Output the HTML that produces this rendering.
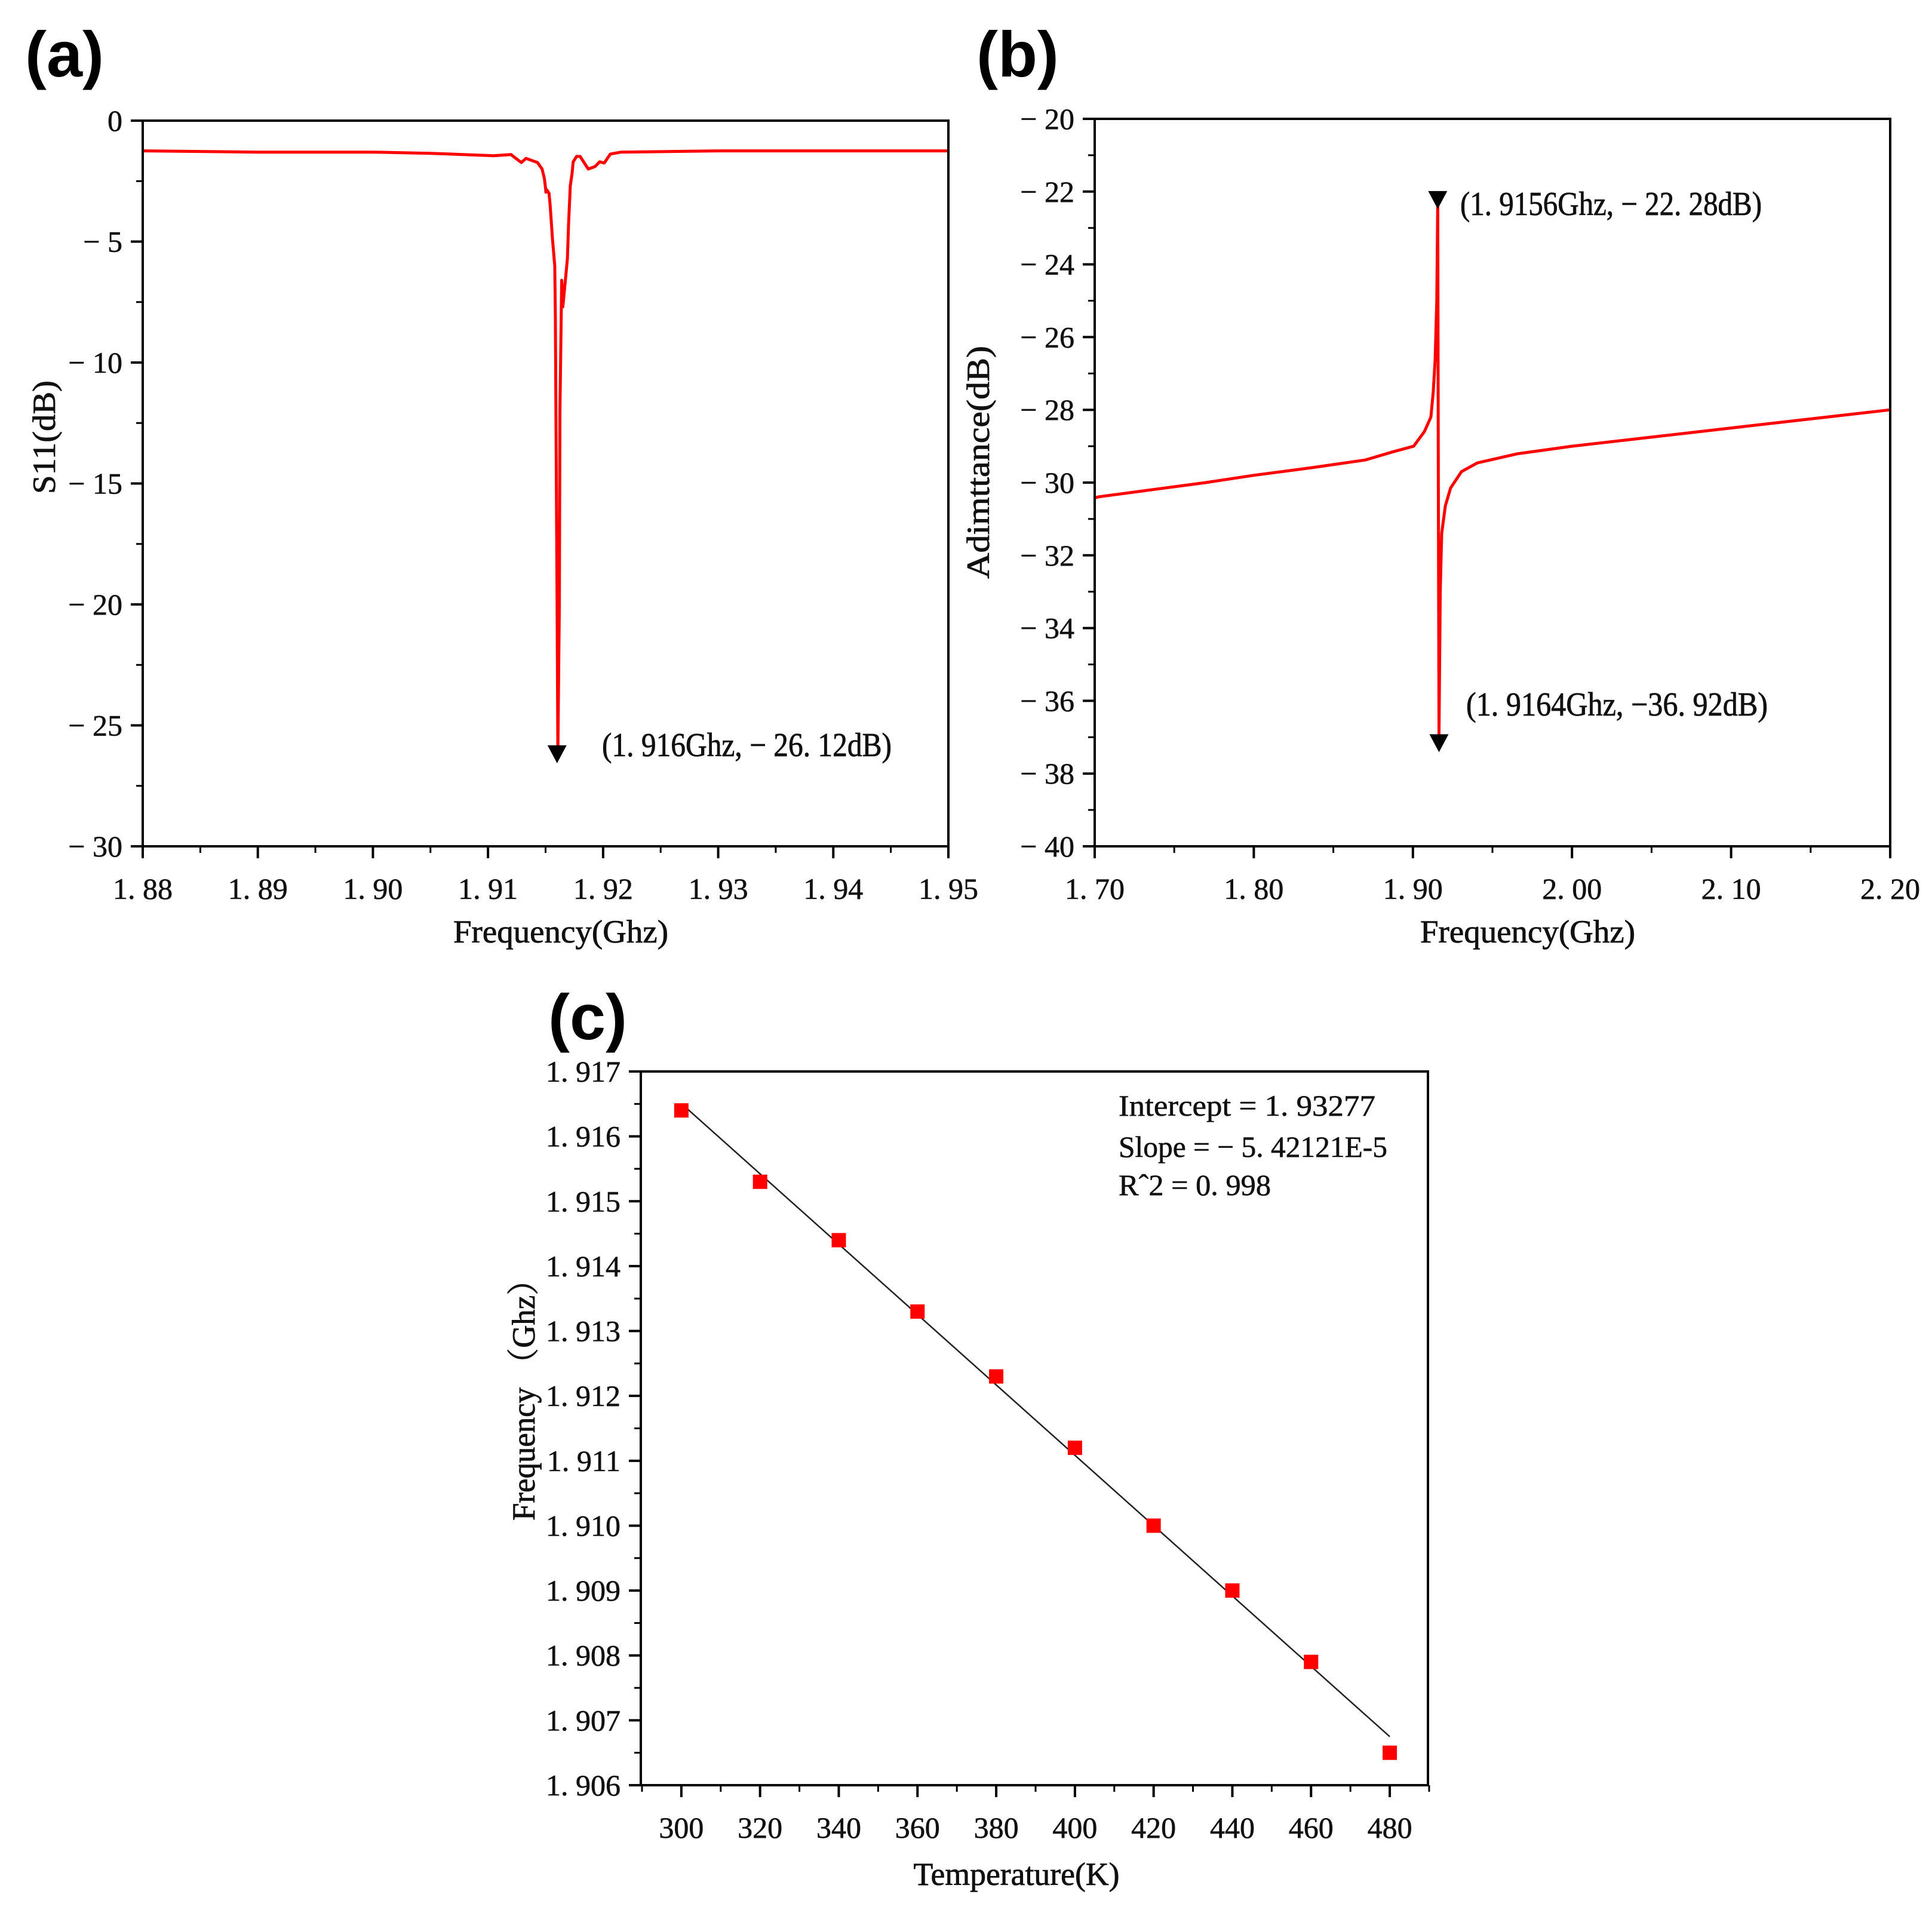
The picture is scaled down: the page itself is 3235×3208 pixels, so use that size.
<!DOCTYPE html>
<html><head><meta charset="utf-8">
<style>
html,body{margin:0;padding:0;background:#fff;}
svg{display:block;font-family:"Liberation Serif","Noto Serif CJK SC",serif;}
.lab{font-family:"Liberation Sans","DejaVu Sans",sans-serif;font-weight:bold;font-size:108px;}
</style></head>
<body>
<svg id="fig" width="3235" height="3208" viewBox="0 0 3235 3208" xmlns="http://www.w3.org/2000/svg">
<text class="lab" x="42" y="128">(a)</text>
<text class="lab" x="1635" y="128">(b)</text>
<text class="lab" x="918" y="1740">(c)</text>
</svg>
<script>
// ---- Panel (a) data: S11 vs frequency ----
const aFreq = [1.880,1.890,1.900,1.905,1.9105,1.912,1.9122,1.9129,1.9133,1.9143,1.9147,1.9149,1.9150,1.91503,1.9151,1.9153,1.9154,1.9156,1.9158,1.91585,1.9160,1.91607,1.9162,1.91625,1.9164,1.9165,1.9167,1.9169,1.9170,1.91715,1.9173,1.9174,1.9177,1.9180,1.91871,1.9193,1.9197,1.9201,1.92063,1.92156,1.930,1.940,1.950];
const aS11 = [-1.25,-1.3,-1.3,-1.35,-1.45,-1.4,-1.48,-1.73,-1.56,-1.73,-2.0,-2.4,-2.8,-2.96,-2.86,-3.0,-3.5,-4.9,-6.0,-8.0,-20,-26.12,-20,-12,-6.6,-7.7,-6.7,-5.7,-4.3,-2.7,-2.2,-1.7,-1.48,-1.48,-2.0,-1.9,-1.7,-1.75,-1.38,-1.3,-1.25,-1.25,-1.25];
const aMarker = {f:1.916, v:-26.12};
const aXTicks = [1.88,1.89,1.90,1.91,1.92,1.93,1.94,1.95];
const aXLabels = ["1. 88","1. 89","1. 90","1. 91","1. 92","1. 93","1. 94","1. 95"];
const aYTicks = [0,-5,-10,-15,-20,-25,-30];
const aYLabels = ["0","− 5","− 10","− 15","− 20","− 25","− 30"];

// ---- Panel (b) data: admittance vs frequency ----
const bFreq = [1.70,1.7026,1.7698,1.80,1.8366,1.870,1.887,1.9005,1.9072,1.9113,1.9128,1.914,1.9150,1.9156,1.9160,1.9164,1.9172,1.9181,1.9204,1.9237,1.9305,1.9405,1.9654,2.00,2.05,2.10,2.15,2.20];
const bAdm = [-30.42,-30.39,-30.0,-29.8,-29.59,-29.38,-29.16,-29.0,-28.6,-28.2,-27.5,-26.6,-25.0,-22.28,-30.0,-36.92,-33.0,-31.4,-30.64,-30.15,-29.7,-29.46,-29.21,-29.0,-28.75,-28.5,-28.25,-28.0];
const bMarkers = [{f:1.9156,v:-22.28},{f:1.9164,v:-36.92}];
const bXTicks = [1.70,1.80,1.90,2.00,2.10,2.20];
const bXLabels = ["1. 70","1. 80","1. 90","2. 00","2. 10","2. 20"];
const bYTicks = [-20,-22,-24,-26,-28,-30,-32,-34,-36,-38,-40];
const bYLabels = ["− 20","− 22","− 24","− 26","− 28","− 30","− 32","− 34","− 36","− 38","− 40"];

// ---- Panel (c) data: resonance frequency vs temperature ----
const cTemp = [300,320,340,360,380,400,420,440,460,480];
const cFreq = [1.9164,1.9153,1.9144,1.9133,1.9123,1.9112,1.9100,1.9090,1.9079,1.9065];
const cIntercept = 1.93277;
const cSlope = -5.42121e-5;
const cXTicks = [300,320,340,360,380,400,420,440,460,480];
const cXLabels = ["300","320","340","360","380","400","420","440","460","480"];
const cYTicks = [1.917,1.916,1.915,1.914,1.913,1.912,1.911,1.910,1.909,1.908,1.907,1.906];
const cYLabels = ["1. 917","1. 916","1. 915","1. 914","1. 913","1. 912","1. 911","1. 910","1. 909","1. 908","1. 907","1. 906"];

const NS = "http://www.w3.org/2000/svg";
const svg = document.getElementById('fig');
function mk(tag, attrs, parent){
  const e = document.createElementNS(NS, tag);
  for (const k in attrs) e.setAttribute(k, attrs[k]);
  (parent||svg).appendChild(e);
  return e;
}
function scale(d0,d1,p0,p1){ return v => p0 + (v-d0)/(d1-d0)*(p1-p0); }

function frame(g, L,T,R,B){
  const r = mk('rect',{x:L,y:T,width:R-L,height:B-T,fill:'none',stroke:'#000','stroke-width':4},g);
  
  
}
function xAxis(g, sx, B, ticks, labels, minorStep, lo, hi, fs){
  ticks.forEach((t,i)=>{
    const x = sx(t);
    const tk = mk('line',{x1:x,y1:B,x2:x,y2:B+20,stroke:'#000','stroke-width':4},g);
    
    
    const tx = mk('text',{x:x,y:B+88,'font-size':fs,'text-anchor':'middle',fill:'#111',stroke:'#111','stroke-width':0.6},g);
    tx.textContent = labels[i];
    
    
  });
  for (let v=lo; v<=hi+1e-9; v+=minorStep){
    const x = sx(v);
    const m = mk('line',{x1:x,y1:B,x2:x,y2:B+11,stroke:'#000','stroke-width':3},g);
    
    
  }
}
function yAxis(g, sy, L, ticks, labels, minorStep, lo, hi, fs){
  ticks.forEach((t,i)=>{
    const y = sy(t);
    const tk = mk('line',{x1:L-20,y1:y,x2:L,y2:y,stroke:'#000','stroke-width':4},g);
    
    
    const tx = mk('text',{x:L-34,y:y+17,'font-size':fs,'text-anchor':'end',fill:'#111',stroke:'#111','stroke-width':0.6},g);
    tx.textContent = labels[i];
    
    
  });
  for (let v=lo; v<=hi+1e-9; v+=minorStep){
    const y = sy(v);
    const m = mk('line',{x1:L-11,y1:y,x2:L,y2:y,stroke:'#000','stroke-width':3},g);
    
    
  }
}
function axTitle(g, x, y, txt, rot, name, fs, len){
  const t = mk('text',{x:x,y:y,'font-size':fs,'text-anchor':'middle',fill:'#111',stroke:'#111','stroke-width':0.8},g);
  if (len){ t.setAttribute('textLength',len); t.setAttribute('lengthAdjust','spacingAndGlyphs'); }
  if (rot) t.setAttribute('transform','rotate(-90 '+x+' '+y+')');
  t.textContent = txt;
  
  
}
function tri(g,x,yTip){
  const h=30,w=16;
  const p = [[x-w,yTip-h],[x+w,yTip-h],[x,yTip]];
  const e = mk('polygon',{points:p.map(q=>q.join(',')).join(' '),fill:'#000'},g);
  
  
}
function annot(g,x,y,txt,len){
  const t = mk('text',{x:x,y:y,'font-size':56,fill:'#111',stroke:'#111','stroke-width':0.8,textLength:len,lengthAdjust:'spacingAndGlyphs'},g);
  t.textContent = txt;
  
  
}

// ===== Panel (a) =====
(function(){
  const g = mk('g',{});
  
  
  const L=239,R=1588,T=202,B=1417;
  const sx = scale(1.88,1.95,L,R), sy = scale(0,-30,T,B);
  const pts = aFreq.map((f,i)=>sx(f).toFixed(1)+','+sy(aS11[i]).toFixed(1)).join(' ');
  const pl = mk('polyline',{points:pts,fill:'none',stroke:'#ff0000','stroke-width':5,'stroke-linejoin':'round'},g);
  
  
  frame(g,L,T,R,B);
  xAxis(g,sx,B,aXTicks,aXLabels,0.005,1.88,1.95,50);
  yAxis(g,sy,L,aYTicks,aYLabels,2.5,-30,0,50);
  tri(g,sx(aMarker.f),sy(aMarker.v)+18);
  annot(g,1008,1266,"(1. 916Ghz, − 26. 12dB)",485);
  axTitle(g,939,1578,"Frequency(Ghz)",false,'x-axis-title',54,360);
  axTitle(g,92,732,"S11(dB)",true,'y-axis-title',54,190);
})();

// ===== Panel (b) =====
(function(){
  const g = mk('g',{});
  
  
  const L=1833,R=3165,T=199,B=1417;
  const sx = scale(1.70,2.20,L,R), sy = scale(-20,-40,T,B);
  const pts = bFreq.map((f,i)=>sx(f).toFixed(1)+','+sy(bAdm[i]).toFixed(1)).join(' ');
  const pl = mk('polyline',{points:pts,fill:'none',stroke:'#ff0000','stroke-width':5,'stroke-linejoin':'round'},g);
  
  
  frame(g,L,T,R,B);
  xAxis(g,sx,B,bXTicks,bXLabels,0.05,1.70,2.20,50);
  yAxis(g,sy,L,bYTicks,bYLabels,1,-40,-20,50);
  tri(g,sx(bMarkers[0].f),sy(bMarkers[0].v)+12);
  tri(g,sx(bMarkers[1].f),sy(bMarkers[1].v)+30);
  annot(g,2445,360,"(1. 9156Ghz, − 22. 28dB)",505);
  annot(g,2455,1198,"(1. 9164Ghz, −36. 92dB)",505);
  axTitle(g,2558,1578,"Frequency(Ghz)",false,'x-axis-title',54,360);
  axTitle(g,1656,774,"Adimttance(dB)",true,'y-axis-title',54,390);
})();

// ===== Panel (c) =====
(function(){
  const g = mk('g',{});
  
  
  const L=1073,R=2391,T=1794,B=2989;
  const sx = scale(289.7,489.7,L,R), sy = scale(1.917,1.906,T,B);
  const x0=300,x1=480;
  const fit = mk('line',{x1:sx(x0),y1:sy(cIntercept+cSlope*x0),x2:sx(x1),y2:sy(cIntercept+cSlope*x1),stroke:'#222','stroke-width':2.5},g);
  
  
  cTemp.forEach((t,i)=>{
    const s=24;
    const r = mk('rect',{x:sx(t)-s/2,y:sy(cFreq[i])-s/2,width:s,height:s,fill:'#ff0000'},g);
    
    
  });
  frame(g,L,T,R,B);
  xAxis(g,sx,B,cXTicks,cXLabels,10,290,490,50);
  yAxis(g,sy,L,cYTicks,cYLabels,0.0005,1.906,1.917,50);
  const st = [["Intercept = 1. 93277",1868,430],["Slope = − 5. 42121E-5",1937,450],["Rˆ2 = 0. 998",2001,255]];
  st.forEach(s=>{
    const t = mk('text',{x:1873,y:s[1],'font-size':50,fill:'#111',stroke:'#111','stroke-width':0.6,textLength:s[2],lengthAdjust:'spacingAndGlyphs'},g);
    t.textContent = s[0];
    
    
  });
  axTitle(g,1702,3156,"Temperature(K)",false,'x-axis-title',54,345);
  axTitle(g,895,2331,"Frequency （Ghz）",true,'y-axis-title',54,430);
})();
</script>
</body></html>
